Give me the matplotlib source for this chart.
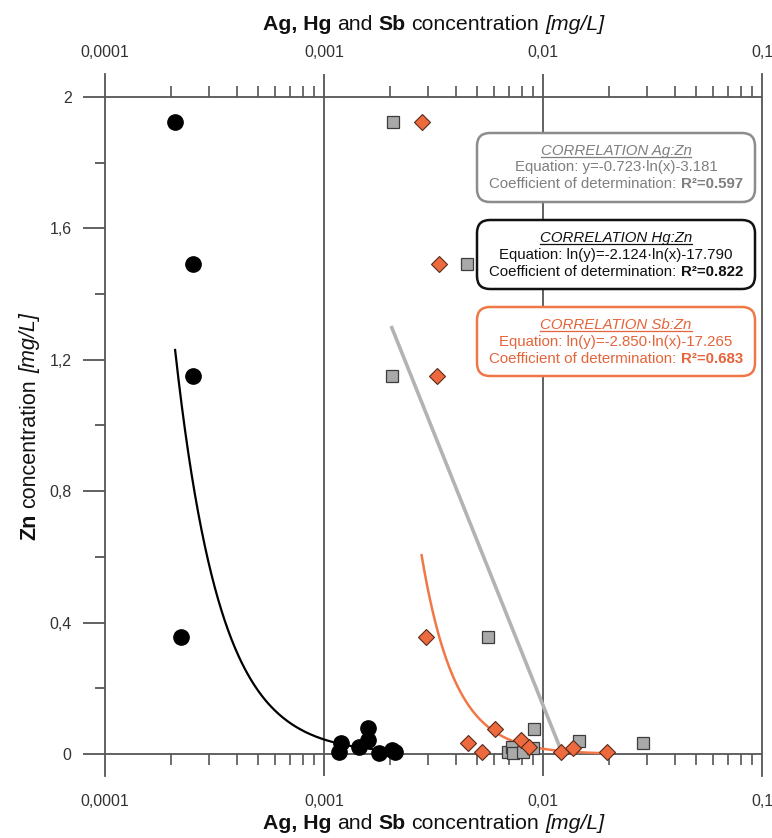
import numpy as np
import matplotlib
matplotlib.use("Agg")
import matplotlib.pyplot as plt
from matplotlib.patches import FancyBboxPatch
from matplotlib.ticker import FixedLocator, NullLocator

plt.rcParams["font.family"] = ["Liberation Sans", "DejaVu Sans"]

# --- data (x in mg/L, y = Zn in mg/L) ---
hg_x = [2.09e-4, 2.51e-4, 2.51e-4, 2.22e-4, 1.17e-3, 1.20e-3, 1.45e-3,
        1.59e-3, 1.59e-3, 1.78e-3, 2.04e-3, 2.11e-3]
hg_y = [1.925, 1.492, 1.151, 0.357, 0.007, 0.033, 0.022, 0.078, 0.043,
        0.003, 0.012, 0.005]

ag_x = [2.07e-3, 4.51e-3, 2.04e-3, 5.59e-3, 9.13e-3, 1.46e-2, 2.85e-2,
        6.92e-3, 7.19e-3, 7.32e-3, 8.11e-3, 8.97e-3]
ag_y = [1.925, 1.492, 1.151, 0.357, 0.075, 0.040, 0.033, 0.005, 0.022,
        0.003, 0.005, 0.017]

sb_x = [2.79e-3, 3.35e-3, 3.27e-3, 2.92e-3, 6.02e-3, 4.56e-3, 5.25e-3,
        7.91e-3, 8.66e-3, 1.21e-2, 1.37e-2, 1.95e-2]
sb_y = [1.925, 1.492, 1.151, 0.357, 0.075, 0.033, 0.005, 0.043, 0.022,
        0.007, 0.017, 0.007]

# fitted relations printed on the chart
ag_fit = (-0.723, -3.181)   # y = a*ln(x) + b
hg_fit = (-2.124, -17.790)  # ln(y) = a*ln(x) + b
sb_fit = (-2.850, -17.265)  # ln(y) = a*ln(x) + b
ag_fit_range = (2.04e-3, 1.2e-2)
hg_fit_range = (2.09e-4, 2.11e-3)
sb_fit_range = (2.79e-3, 1.95e-2)

x_ticks = [1e-4, 1e-3, 1e-2, 1e-1]
x_labels = ["0,0001", "0,001", "0,01", "0,1"]
y_ticks = [0, 0.4, 0.8, 1.2, 1.6, 2.0]
y_labels = ["0", "0,4", "0,8", "1,2", "1,6", "2"]
y_minor = [0.2, 0.6, 1.0, 1.4, 1.8]

boxes = [
    ("Ag:Zn", "Equation: y=-0.723\u00b7ln(x)-3.181", "R\u00b2=0.597"),
    ("Hg:Zn", "Equation: ln(y)=-2.124\u00b7ln(x)-17.790", "R\u00b2=0.822"),
    ("Sb:Zn", "Equation: ln(y)=-2.850\u00b7ln(x)-17.265", "R\u00b2=0.683"),
]

GRAY_MK = "#a9a9a9"
GRAY_LN = "#b3b3b3"
ORANGE = "#ec6a3e"
ORANGE_LN = "#f07848"
AXC = "#555555"

W, H = 772, 838
fig = plt.figure(figsize=(W / 100, H / 100), dpi=100)

# axes box in pixels: x 105..762, y 74..776 ; y=0 at 754, y=2 at 97
ax = fig.add_axes([105 / W, 1 - 776 / H, 657 / W, 702 / H])
ax.set_xscale("log")
ax.set_xlim(1e-4, 1e-1)
per_px = 2 / (754 - 97)
ax.set_ylim(-(776 - 754) * per_px, 2 + (97 - 74) * per_px)

for s in ["top", "bottom"]:
    ax.spines[s].set_visible(False)
for s in ["left", "right"]:
    ax.spines[s].set_color(AXC)
    ax.spines[s].set_linewidth(1.3)

ax.axhline(0, color=AXC, lw=1.3, zorder=1)
ax.axhline(2, color=AXC, lw=1.3, zorder=1)
for v in x_ticks[1:-1]:
    ax.axvline(v, color=AXC, lw=1.3, zorder=1)

# minor ticks on the two horizontal lines
tick_len = 11 * per_px
minor_x = [k * d for d in x_ticks[:-1] for k in range(2, 10)]
ax.vlines(minor_x, -tick_len, 0, color=AXC, lw=1.2, zorder=1)
ax.vlines(minor_x, 2, 2 + tick_len, color=AXC, lw=1.2, zorder=1)

# x tick labels bottom and top
ax.xaxis.set_major_locator(FixedLocator(x_ticks))
ax.xaxis.set_minor_locator(NullLocator())
ax.set_xticklabels(x_labels)
ax.tick_params(axis="x", which="both", length=0, pad=13, labelsize=11.5,
               labelcolor="#333333")
top = ax.secondary_xaxis("top")
top.set_xticks(x_ticks)
top.set_xticklabels(x_labels)
top.xaxis.set_minor_locator(NullLocator())
top.tick_params(axis="x", which="both", length=0, pad=10, labelsize=11.5,
                labelcolor="#333333")
top.spines["top"].set_visible(False)

ax.set_yticks(y_ticks)
ax.set_yticklabels(y_labels)
ax.set_yticks(y_minor, minor=True)
ax.tick_params(axis="y", which="major", direction="out", length=16, width=1.3,
               color=AXC, pad=8, labelsize=11.5, labelcolor="#333333")
ax.tick_params(axis="y", which="minor", direction="out", length=7, width=1.3,
               color=AXC)

# fit lines
xa = np.geomspace(*ag_fit_range, 50)
ax.plot(xa, ag_fit[0] * np.log(xa) + ag_fit[1], color=GRAY_LN, lw=2.6, zorder=2)
xh = np.geomspace(*hg_fit_range, 200)
ax.plot(xh, np.exp(hg_fit[0] * np.log(xh) + hg_fit[1]), color="black", lw=1.6,
        zorder=2)
xs = np.geomspace(*sb_fit_range, 200)
ax.plot(xs, np.exp(sb_fit[0] * np.log(xs) + sb_fit[1]), color=ORANGE_LN, lw=1.8,
        zorder=2)

# points
ax.plot(ag_x, ag_y, "s", ms=9, mfc=GRAY_MK, mec="#3c3c3c", mew=0.9,
        ls="none", zorder=3, clip_on=False)
ax.plot(hg_x, hg_y, "o", ms=11, mfc="black", mec="black", ls="none",
        zorder=4, clip_on=False)
ax.plot(sb_x, sb_y, "D", ms=8, mfc=ORANGE, mec="#5a2a1a", mew=0.8,
        ls="none", zorder=5, clip_on=False)

# overlay in pixel coordinates for titles and boxes
ov = fig.add_axes([0, 0, 1, 1], zorder=10)
ov.set_xlim(0, W)
ov.set_ylim(H, 0)
ov.axis("off")
ov.patch.set_alpha(0)
r = fig.canvas.get_renderer()


def rich(cx, cy, parts, size, color, rot=0, underline=False):
    def length(t):
        bb = t.get_window_extent(r)
        return bb.width if rot == 0 else bb.height
    p1 = ov.text(0, 0, "a a", fontsize=size)
    p2 = ov.text(0, 0, "aa", fontsize=size)
    space = p1.get_window_extent(r).width - p2.get_window_extent(r).width
    p1.remove()
    p2.remove()
    items = []
    total = 0
    for i, (s, wt, st) in enumerate(parts):
        t = ov.text(0, 0, s.strip(), fontsize=size, color=color, fontweight=wt,
                    fontstyle=st, rotation=rot, rotation_mode="anchor",
                    ha="left", va="baseline")
        lead = space if (i > 0 and s.startswith(" ")) else 0
        trail = space if (i < len(parts) - 1 and s.endswith(" ")) else 0
        w = length(t)
        items.append((t, lead, w, trail))
        total += lead + w + trail
    pos = -total / 2
    for t, lead, w, trail in items:
        pos += lead
        if rot == 0:
            t.set_position((cx + pos, cy))
        else:
            t.set_position((cx, cy - pos))
        pos += w + trail
    if underline:
        ov.plot([cx - total / 2, cx + total / 2], [cy + 2.5, cy + 2.5],
                color=color, lw=0.9)


title_parts = [("Ag, Hg ", "bold", "normal"), ("and ", "normal", "normal"),
               ("Sb ", "bold", "normal"), ("concentration ", "normal", "normal"),
               ("[mg/L]", "normal", "italic")]
rich(433.5, 30, title_parts, 15.3, "#111111")
rich(433.5, 829, title_parts, 15.3, "#111111")
rich(35, 427, [("Zn ", "bold", "normal"), ("concentration ", "normal", "normal"),
               ("[mg/L]", "normal", "italic")], 15.5, "#111111", rot=90)

box_tops = [133, 220, 307]
box_edges = ["#8c8c8c", "#111111", ORANGE_LN]
box_text = ["#7f7f7f", "#111111", "#e5643a"]
for (pair, eq, r2), y0, ec, tc in zip(boxes, box_tops, box_edges, box_text):
    ov.add_patch(FancyBboxPatch((477, y0), 278, 69,
                                boxstyle="round,pad=0,rounding_size=13",
                                fc="white", ec=ec, lw=1.8))
    rich(616, y0 + 22, [("CORRELATION " + pair, "normal", "italic")], 10.8, tc,
         underline=True)
    rich(616, y0 + 38.5, [(eq, "normal", "normal")], 10.8, tc)
    rich(616, y0 + 55.5, [("Coefficient of determination: ", "normal", "normal"),
                          (r2, "bold", "normal")], 10.8, tc)

fig.savefig("out.png", dpi=100)
